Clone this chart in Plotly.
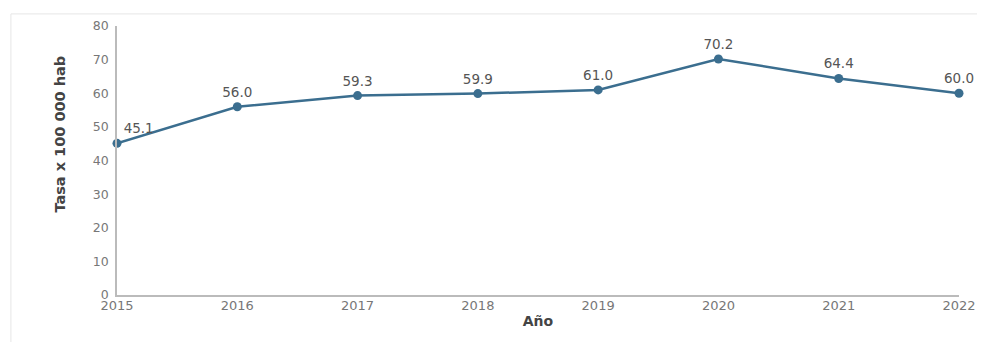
import plotly.graph_objects as go

years = [2015, 2016, 2017, 2018, 2019, 2020, 2021, 2022]
rates = [45.1, 56.0, 59.3, 59.9, 61.0, 70.2, 64.4, 60.0]
labels = ["45.1", "56.0", "59.3", "59.9", "61.0", "70.2", "64.4", "60.0"]
y_title = "Tasa x 100 000 hab"
x_title = "Año"

positions = ["top right"] + ["top center"] * (len(years) - 1)

fig = go.Figure()
fig.add_trace(go.Scatter(
    x=years, y=rates, mode="lines+markers+text",
    text=labels, textposition=positions,
    textfont=dict(family="DejaVu Sans", size=13.5, color="#555555"),
    line=dict(color="#3b6e8f", width=2.5),
    marker=dict(color="#3b6e8f", size=9),
    cliponaxis=False, showlegend=False,
))

fig.add_shape(type="rect", xref="paper", yref="paper",
              x0=-0.126, x1=1.05, y0=-0.25, y1=1.045,
              line=dict(color="#e6e6e6", width=1), fillcolor="rgba(0,0,0,0)", layer="below")

fig.add_annotation(text="<b>" + y_title + "</b>", xref="paper", yref="paper",
                   x=-0.0677, y=0.60, textangle=-90, showarrow=False,
                   xanchor="center", yanchor="middle",
                   font=dict(family="DejaVu Sans", size=14.5, color="#444444"))

fig.update_layout(
    width=969, height=334,
    margin=dict(l=109, r=18, t=18, b=47),
    paper_bgcolor="white", plot_bgcolor="white",
    font=dict(family="DejaVu Sans", color="#666666", size=13),
)
fig.update_xaxes(
    range=[2015, 2022], tickmode="array", tickvals=years,
    ticktext=[str(y) for y in years], automargin=False,
    showgrid=False, zeroline=False, showline=True, linecolor="#bbbbbb", linewidth=1.5,
    ticks="", ticklen=0, tickfont=dict(size=13, color="#777777"), ticklabelstandoff=-2,
    title=dict(text="<b>" + x_title + "</b>", font=dict(size=14, color="#444444"), standoff=4),
)
fig.update_yaxes(
    range=[0, 80], dtick=10, showgrid=False, zeroline=False, automargin=False,
    showline=True, linecolor="#bbbbbb", linewidth=1.5,
    ticks="", tickfont=dict(size=12.5, color="#777777"), ticklabelstandoff=4,
)

fig.write_html("out.html")
